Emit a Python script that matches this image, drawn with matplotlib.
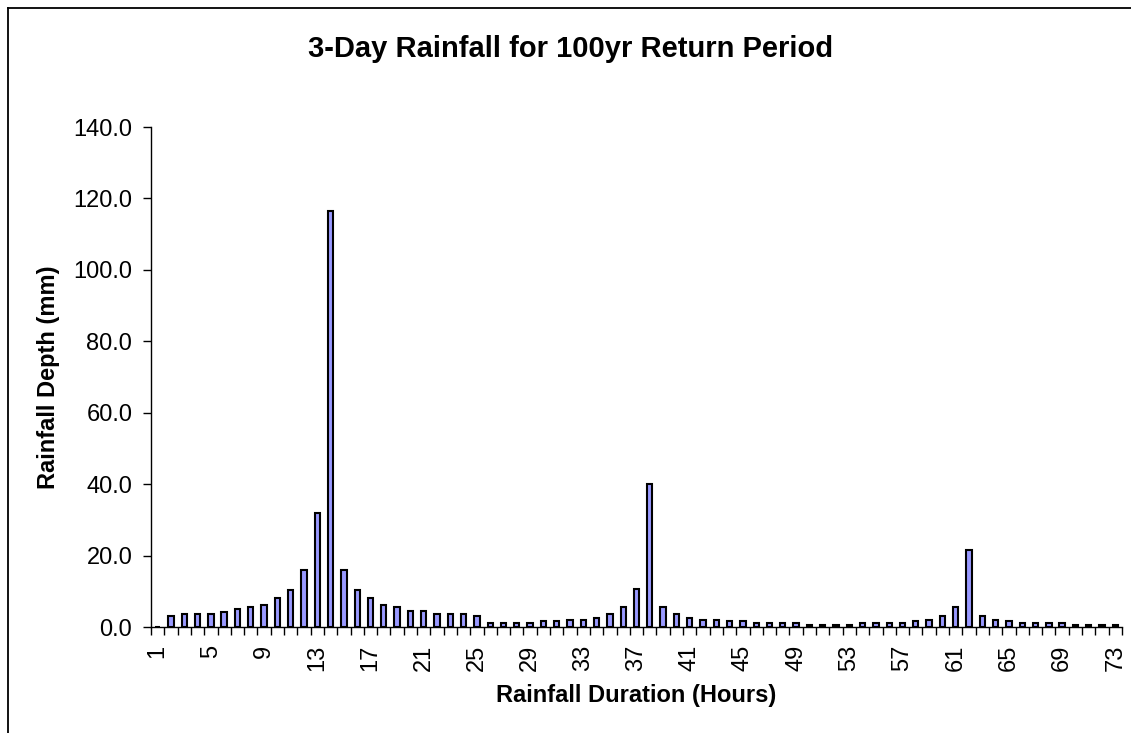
import matplotlib
matplotlib.use("Agg")
import matplotlib.pyplot as plt
from matplotlib.lines import Line2D
from matplotlib.ticker import FixedLocator, NullFormatter

plt.rcParams["font.family"] = ["Liberation Sans", "DejaVu Sans"]

# Hourly rainfall depth (mm) for the 3-day, 100-year design storm
hours = list(range(1, 74))
rainfall = [
    0.0, 3.1, 3.6, 3.6, 3.6, 4.2, 5.1, 5.7, 6.2, 8.2,
    10.3, 15.9, 31.8, 116.4, 15.9, 10.3, 8.2, 6.2, 5.6, 4.6,
    4.6, 3.6, 3.6, 3.6, 3.0, 1.1, 1.1, 1.1, 1.1, 1.7,
    1.7, 2.1, 2.1, 2.6, 3.7, 5.7, 10.7, 40.0, 5.7, 3.7,
    2.6, 2.1, 2.1, 1.7, 1.7, 1.1, 1.1, 1.1, 1.1, 0.6,
    0.6, 0.6, 0.6, 1.1, 1.1, 1.1, 1.1, 1.7, 2.1, 3.1,
    5.7, 21.5, 3.1, 2.1, 1.7, 1.1, 1.1, 1.1, 1.1, 0.6,
    0.6, 0.6, 0.6,
]
y_ticks = [0, 20, 40, 60, 80, 100, 120, 140]
label_every = 4

W, H = 1131, 733
fig = plt.figure(figsize=(W / 100, H / 100), dpi=100)
ax = fig.add_axes([151 / W, 1 - 627 / H, (1122 - 151) / W, (627 - 127) / H])

pos = list(range(len(hours)))
ax.bar(pos, rainfall, width=0.4, color="#9999FF", edgecolor="black",
       linewidth=1.5, zorder=3)

ax.set_xlim(-0.5, len(hours) - 0.5)
ax.set_ylim(0, 140)

# Category axis: tick marks between categories, labels on every 4th hour
ax.xaxis.set_minor_locator(FixedLocator([p - 0.5 for p in range(len(hours) + 1)]))
ax.xaxis.set_minor_formatter(NullFormatter())
ax.set_xticks(pos[::label_every])
ax.set_xticklabels([str(h) for h in hours[::label_every]], rotation=90,
                   fontsize=17, va="top", ha="center")
ax.tick_params(axis="x", which="major", length=0, pad=13)
ax.tick_params(axis="x", which="minor", length=5.5, width=1, direction="out")

ax.set_yticks(y_ticks)
ax.set_yticklabels([f"{v:.1f}" for v in y_ticks], fontsize=17)
ax.tick_params(axis="y", length=5.5, width=1, direction="out", pad=8)

for side in ("top", "right"):
    ax.spines[side].set_visible(False)
for side in ("left", "bottom"):
    ax.spines[side].set_linewidth(1)
    ax.spines[side].set_color("black")

ax.set_xlabel("Rainfall Duration (Hours)", fontsize=17, fontweight="bold",
              labelpad=9)
ax.set_ylabel("Rainfall Depth (mm)", fontsize=17, fontweight="bold")
ax.yaxis.set_label_coords(-(151 - 49) / (1122 - 151), 0.5)
ax.yaxis.label.set_va("center")

fig.text(571 / W, 1 - 49 / H, "3-Day Rainfall for 100yr Return Period",
         fontsize=21, fontweight="bold", ha="center", va="center")

# Chart-area border (top and left edges)
fig.add_artist(Line2D([8 / W, 1.0], [1 - 7.5 / H, 1 - 7.5 / H],
                      transform=fig.transFigure, color="black", lw=1.3))
fig.add_artist(Line2D([8 / W, 8 / W], [1 - 7.5 / H, 0.0],
                      transform=fig.transFigure, color="black", lw=1.3))

fig.savefig("out.png", dpi=100, facecolor="white")
